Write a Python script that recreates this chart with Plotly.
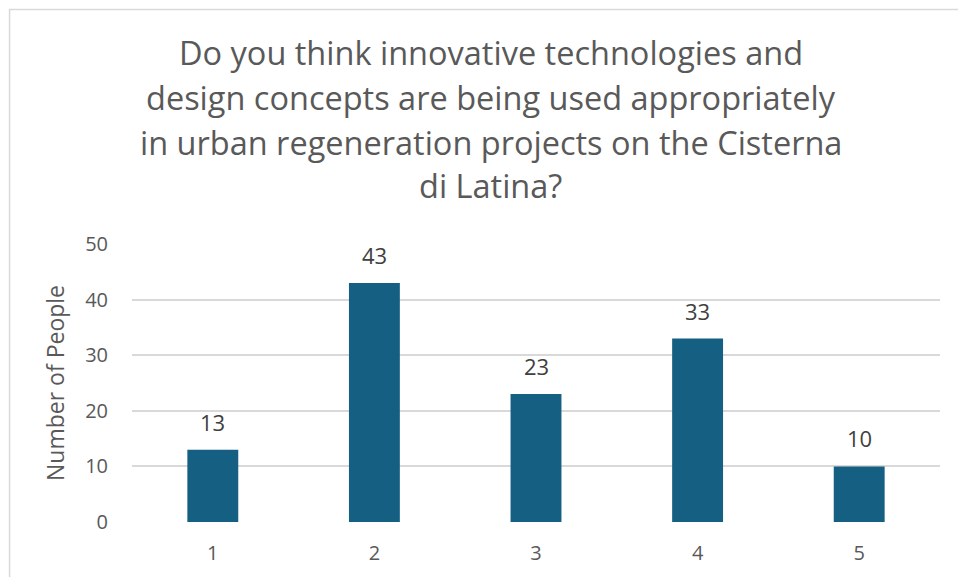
import plotly.graph_objects as go

# Survey responses: rating scale 1-5 and number of respondents per rating
categories = ["1", "2", "3", "4", "5"]
counts = [13, 43, 23, 33, 10]
y_ticks = [0, 10, 20, 30, 40, 50]

title_lines = [
    "Do you think innovative technologies and",
    "design concepts are being used appropriately",
    "in urban regeneration projects on the Cisterna",
    "di Latina?",
]

W, H = 958, 577
L, R, T, B = 132, 17.5, 243.7, 54.5
plot_h = H - T - B
plot_w = W - L - R

def px_y(py):
    return (H - B - py) / plot_h

def px_x(px):
    return (px - L) / plot_w

BAR = "#156082"
GRAY = "#595959"
FONT = "Open Sans"

fig = go.Figure(
    go.Bar(
        x=categories,
        y=counts,
        marker=dict(color=BAR, line=dict(width=0)),
        width=0.315,
        hoverinfo="x+y",
    )
)

annotations = []
# value labels above each bar (category axis positions are indexes)
for i, v in enumerate(counts):
    annotations.append(dict(
        x=i, y=v, xref="x", yref="y", text=str(v), showarrow=False,
        yanchor="bottom", yshift=11,
        font=dict(family=FONT, size=22, color="#404040"),
    ))

# multi-line chart title
baselines = [62.7, 108, 153, 197]
for line, b in zip(title_lines, baselines):
    annotations.append(dict(
        x=px_x(491), y=px_y(b - 11.5), xref="paper", yref="paper",
        text=line, showarrow=False, xanchor="center", yanchor="middle",
        font=dict(family=FONT, size=32.5, color=GRAY),
    ))

fig.update_layout(
    width=W, height=H,
    margin=dict(l=L, r=R, t=T, b=B, pad=0),
    paper_bgcolor="white", plot_bgcolor="white",
    showlegend=False,
    annotations=annotations,
    xaxis=dict(
        type="category", range=[-0.5, len(categories) - 0.5],
        showgrid=False, zeroline=False, showline=False,
        ticks="", tickfont=dict(family=FONT, size=20, color=GRAY),
        ticklabelstandoff=17,
    ),
    yaxis=dict(
        range=[0, 50], tickvals=y_ticks, showgrid=True,
        gridcolor="#d9d9d9", gridwidth=1.5, zeroline=False, showline=False,
        ticks="", tickfont=dict(family=FONT, size=20, color=GRAY),
        ticklabelstandoff=23,
        title=dict(text="Number of People", standoff=14,
                   font=dict(family=FONT, size=23, color=GRAY)),
    ),
    shapes=[dict(
        type="rect", xref="paper", yref="paper",
        x0=px_x(9.5), x1=px_x(990), y0=px_y(8.5), y1=px_y(620),
        line=dict(color="#d9d9d9", width=1.5), fillcolor="rgba(0,0,0,0)",
        layer="below",
    )],
)

fig.write_html("out.html")
